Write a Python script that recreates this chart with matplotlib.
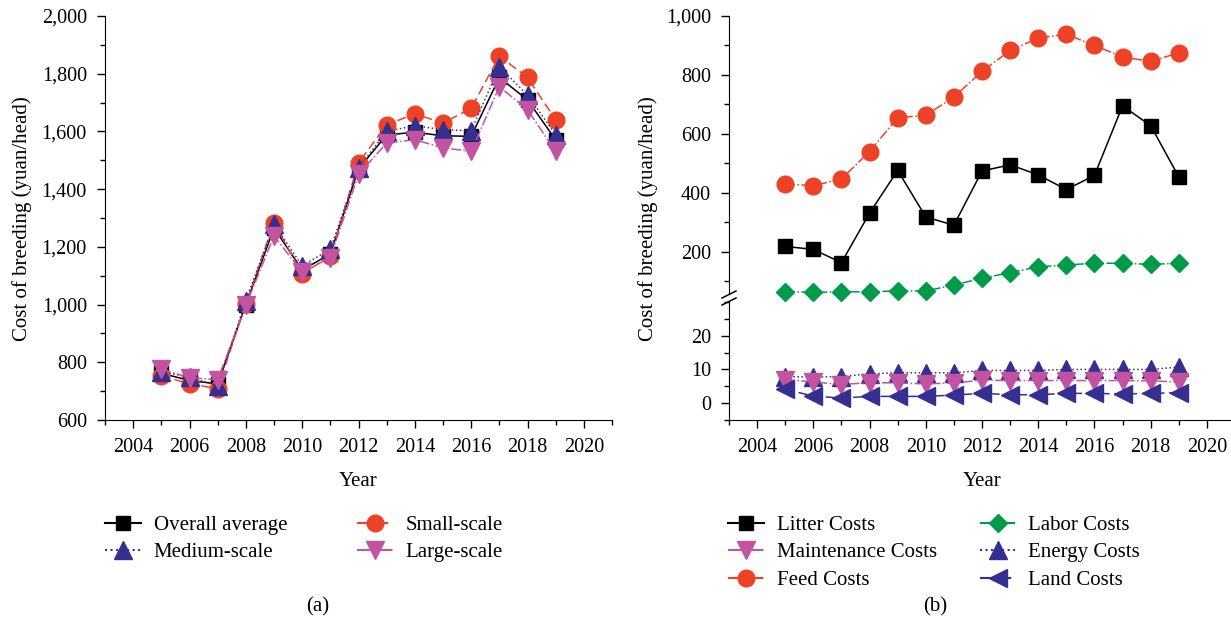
import numpy as np
import matplotlib.pyplot as plt
from matplotlib.ticker import MultipleLocator, StrMethodFormatter
from matplotlib.lines import Line2D

plt.rcParams['font.family'] = ['Liberation Serif', 'DejaVu Serif']
plt.rcParams['font.size'] = 15

years = np.arange(2005, 2020)

# panel (a): breeding cost by farm scale
overall = [762, 737, 725, 1000, 1265, 1120, 1175, 1470, 1588, 1597, 1585, 1583, 1787, 1709, 1571]
small = [754, 725, 709, 1002, 1284, 1106, 1169, 1491, 1623, 1661, 1629, 1680, 1861, 1787, 1640]
medium = [768, 748, 719, 1014, 1278, 1134, 1192, 1474, 1600, 1620, 1606, 1602, 1824, 1726, 1589]
large = [777, 746, 740, 997, 1238, 1112, 1163, 1451, 1560, 1571, 1543, 1531, 1755, 1675, 1531]

# panel (b): cost components
litter = [218, 208, 163, 331, 476, 318, 290, 474, 495, 461, 411, 459, 695, 628, 454]
feed = [430, 424, 447, 540, 655, 663, 725, 812, 883, 925, 938, 900, 861, 846, 875]
labor = [65, 62, 64, 64, 67, 67, 87, 110, 129, 149, 155, 161, 161, 157, 161]
maintenance = [7.0, 6.3, 5.5, 6.1, 6.0, 5.7, 6.0, 6.8, 6.7, 6.7, 6.7, 6.7, 6.7, 6.6, 6.3]
energy = [7.9, 7.7, 7.9, 8.7, 9.0, 9.0, 9.0, 9.7, 9.7, 9.7, 10.0, 10.0, 10.0, 10.0, 10.7]
land = [4.1, 2.1, 1.5, 2.0, 2.0, 2.0, 2.4, 2.9, 2.5, 2.5, 2.9, 2.9, 2.7, 2.9, 3.1]

BLACK = '#000000'
RED = '#EE4227'
NAVY = '#352F91'
PINK = '#C153A0'
GREEN = '#009B48'

W, H = 1231, 633
fig = plt.figure(figsize=(W / 100, H / 100), dpi=100)


def px_axes(left, top, right, bottom):
    return fig.add_axes([left / W, 1 - bottom / H, (right - left) / W, (bottom - top) / H])


def style_axes(ax):
    ax.spines['top'].set_visible(False)
    ax.spines['right'].set_visible(False)
    ax.tick_params(which='major', direction='out', length=6, width=1, labelsize=14.5, pad=7)
    ax.tick_params(which='minor', direction='out', length=3.6, width=1)


ms_sq, ms_ci, ms_tri, ms_dia = 10, 12, 13, 9
lw = 1.1

# ---------- panel (a) ----------
axa = px_axes(105, 16, 612, 420)
style_axes(axa)
axa.plot(years, overall, color=BLACK, ls='-', lw=lw, marker='s', ms=ms_sq, zorder=3, clip_on=False)
axa.plot(years, small, color=RED, ls=(0, (6, 3)), lw=lw, marker='o', ms=ms_ci, zorder=3, clip_on=False)
axa.plot(years, medium, color=NAVY, ls=':', lw=lw, marker='^', ms=ms_tri, zorder=4, clip_on=False)
axa.plot(years, large, color=PINK, ls='-.', lw=lw, marker='v', ms=ms_tri, zorder=5, clip_on=False)
axa.set_xlim(2003, 2021)
axa.set_ylim(600, 2000)
axa.set_xticks(np.arange(2004, 2021, 2))
axa.xaxis.set_minor_locator(MultipleLocator(1))
axa.yaxis.set_major_locator(MultipleLocator(200))
axa.yaxis.set_minor_locator(MultipleLocator(100))
axa.yaxis.set_major_formatter(StrMethodFormatter('{x:,.0f}'))
axa.set_xlabel('Year', labelpad=10.5)
fig.text(22 / W, 1 - 219 / H, 'Cost of breeding (yuan/head)', rotation=90,
         ha='center', va='center')

handles_a = [
    Line2D([], [], color=BLACK, ls='-', marker='s', ms=ms_sq),
    Line2D([], [], color=NAVY, ls=':', marker='^', ms=ms_tri),
    Line2D([], [], color=RED, ls=(0, (6, 3)), marker='o', ms=ms_ci),
    Line2D([], [], color=PINK, ls='-.', marker='v', ms=ms_tri),
]
labels_a = ['Overall average', 'Medium-scale', 'Small-scale', 'Large-scale']
fig.legend(handles_a, labels_a, ncol=2, frameon=False, loc='upper left',
           bbox_to_anchor=(97 / W, 1 - 507 / H), handlelength=1.7, handletextpad=0.62,
           columnspacing=3.37, labelspacing=0.38, borderaxespad=0)
fig.text(318 / W, 1 - 607 / H, '(a)', ha='center', va='center')

# ---------- panel (b): broken y axis ----------
axu = px_axes(729, 16, 1235, 293)
axl = px_axes(729, 302, 1235, 420)
for ax in (axu, axl):
    style_axes(ax)
    ax.set_xlim(2003, 2021)
axu.spines['bottom'].set_visible(False)
axu.tick_params(axis='x', which='both', bottom=False, labelbottom=False)

axu.plot(years, litter, color=BLACK, ls='-', lw=lw, marker='s', ms=ms_sq, zorder=3, clip_on=False)
axu.plot(years, feed, color=RED, ls='-.', lw=lw, marker='o', ms=ms_ci, zorder=3, clip_on=False)
axu.plot(years, labor, color=GREEN, ls='-.', lw=lw, marker='D', ms=ms_dia, zorder=3, clip_on=False)
axl.plot(years, energy, color=NAVY, ls=':', lw=lw, marker='^', ms=ms_tri, zorder=3, clip_on=False)
axl.plot(years, maintenance, color=PINK, ls='-.', lw=lw, marker='v', ms=ms_tri, zorder=4, clip_on=False)
axl.plot(years, land, color=NAVY, ls=(0, (6, 3)), lw=lw, marker='<', ms=ms_tri, zorder=5, clip_on=False)

axu.set_ylim(60, 1000)
axu.yaxis.set_major_locator(MultipleLocator(200))
axu.yaxis.set_minor_locator(MultipleLocator(100))
axu.yaxis.set_major_formatter(StrMethodFormatter('{x:,.0f}'))
axl.set_ylim(-5, 30)
axl.set_yticks([0, 10, 20])
axl.yaxis.set_minor_locator(MultipleLocator(5))
axl.set_xticks(np.arange(2004, 2021, 2))
axl.xaxis.set_minor_locator(MultipleLocator(1))
axl.set_xlabel('Year', labelpad=10.5)
fig.text(648 / W, 1 - 219 / H, 'Cost of breeding (yuan/head)', rotation=90,
         ha='center', va='center')

# break marks on the y axis
for y0 in (298, 305):
    fig.add_artist(Line2D([722 / W, 736 / W], [1 - y0 / H, 1 - (y0 - 7) / H],
                          color='black', lw=1.1))

handles_b = [
    Line2D([], [], color=BLACK, ls='-', marker='s', ms=ms_sq),
    Line2D([], [], color=PINK, ls='-.', marker='v', ms=ms_tri),
    Line2D([], [], color=RED, ls='-.', marker='o', ms=ms_ci),
    Line2D([], [], color=GREEN, ls='-.', marker='D', ms=ms_dia),
    Line2D([], [], color=NAVY, ls=':', marker='^', ms=ms_tri),
    Line2D([], [], color=NAVY, ls=(0, (6, 3)), marker='<', ms=ms_tri),
]
labels_b = ['Litter Costs', 'Maintenance Costs', 'Feed Costs',
            'Labor Costs', 'Energy Costs', 'Land Costs']
fig.legend(handles_b, labels_b, ncol=2, frameon=False, loc='upper left',
           bbox_to_anchor=(720 / W, 1 - 507 / H), handlelength=1.7, handletextpad=0.62,
           columnspacing=2.07, labelspacing=0.38, borderaxespad=0)
fig.text(935 / W, 1 - 607 / H, '(b)', ha='center', va='center')

fig.savefig('out.png', dpi=100)
